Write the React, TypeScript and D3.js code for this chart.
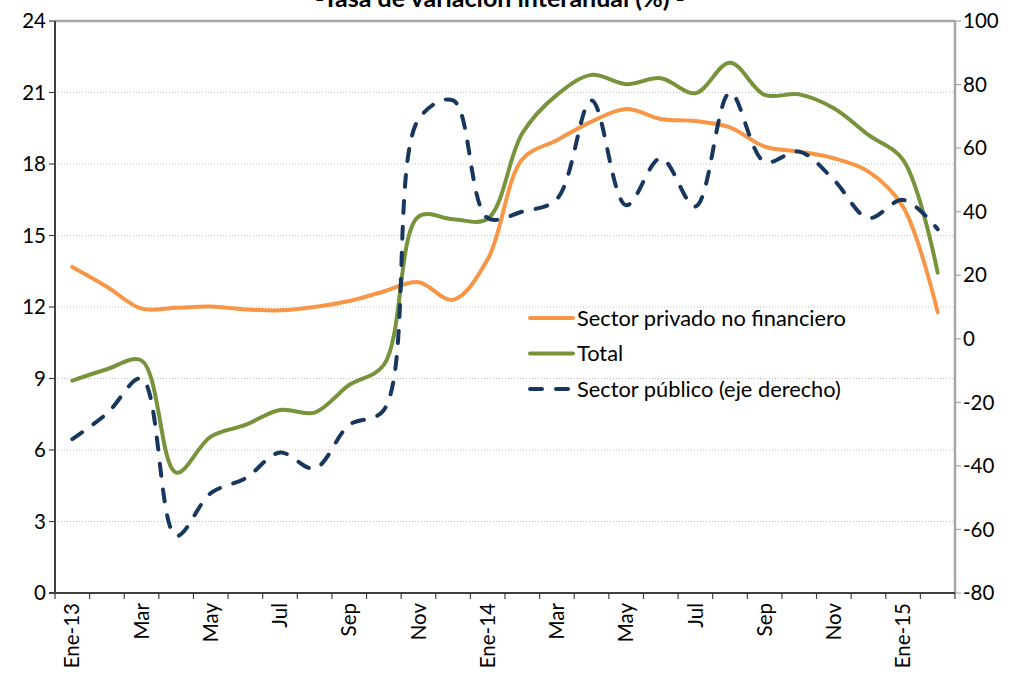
import React from "react";
import * as d3 from "d3";

const categories = [
  "2013-01","2013-02","2013-03","2013-04","2013-05","2013-06","2013-07","2013-08","2013-09","2013-10","2013-11","2013-12",
  "2014-01","2014-02","2014-03","2014-04","2014-05","2014-06","2014-07","2014-08","2014-09","2014-10","2014-11","2014-12",
  "2015-01","2015-02",
];
const tickLabels = [
  "Ene-13","","Mar","","May","","Jul","","Sep","","Nov","",
  "Ene-14","","Mar","","May","","Jul","","Sep","","Nov","",
  "Ene-15","",
];
const privado = [
  13.68, 12.85, 11.93, 11.97, 12.02, 11.9, 11.86, 12.0, 12.25, 12.65, 13.04, 12.3,
  14.0, 18.2, 19.0, 19.78, 20.31, 19.89, 19.8, 19.54, 18.73, 18.52, 18.24, 17.68,
  16.2, 11.78,
];
const total = [
  8.91, 9.39, 9.75, 5.05, 6.56, 7.05, 7.68, 7.57, 8.73, 9.57, 15.79, 15.68,
  15.7, 19.29, 20.9, 21.74, 21.35, 21.6, 20.97, 22.25, 20.9, 20.92, 20.34, 19.22,
  18.17, 13.44,
];
const publico = [
  -31.6, -23.5, -12.5, -62, -48.6, -43.9, -35.8, -40.8, -27.1, -22.4, 69, 75,
  38, 40, 44, 75, 42, 56.8, 41.6, 77.4, 55.7, 58.9, 50, 38, 43.7, 34.5,
];
const leftTicks = [0, 3, 6, 9, 12, 15, 18, 21, 24];
const rightTicks = [-80, -60, -40, -20, 0, 20, 40, 60, 80, 100];
const title = "-Tasa de variación interanual (%) -";
const legendItems = [
  { label: "Sector privado no financiero", color: "#F79646", dash: "" },
  { label: "Total", color: "#77933C", dash: "" },
  { label: "Sector público (eje derecho)", color: "#17375E", dash: "12 14" },
];

const W = 1014;
const H = 674;
const L = 55, R = 955, T = 21, B = 593;
const FONT = "Lato, 'Open Sans', sans-serif";

export default function App() {
  const xBand = d3.scaleBand<string>().domain(categories).range([L, R]).paddingInner(0).paddingOuter(0);
  const xp = d3.scalePoint<string>().domain(categories).range([L, R]).padding(0.5);
  const yL = d3.scaleLinear().domain([0, 24]).range([B, T]);
  const yR = d3.scaleLinear().domain([-80, 100]).range([B, T]);

  const curve = d3.curveCatmullRom.alpha(0.5);
  const lineL = d3.line<number>()
    .x((_, i) => xp(categories[i]) as number)
    .y((d) => yL(d))
    .curve(curve);
  const lineR = d3.line<number>()
    .x((_, i) => xp(categories[i]) as number)
    .y((d) => yR(d))
    .curve(curve);

  const boundaries = [...categories.map((c) => xBand(c) as number), R];

  return (
    <div style={{ position: "absolute", left: 0, top: 0 }}>
      <svg width={W} height={H} style={{ display: "block", background: "#fff" }}>
        <text x={500} y={7} textAnchor="middle" fontFamily={FONT} fontWeight="bold" fontSize={25} fill="#000">
          {title}
        </text>
        {/* grid */}
        {leftTicks.filter((t) => t > 0 && t < 24).map((t) => (
          <line key={"g" + t} x1={L} x2={R} y1={yL(t)} y2={yL(t)} stroke="#BFBFBF" strokeWidth={1} strokeDasharray="1 2" />
        ))}
        {/* top border */}
        <line x1={L} x2={R} y1={T} y2={T} stroke="#A6A6A6" strokeWidth={2.5} />
        {/* right axis */}
        <line x1={R} x2={R} y1={T} y2={B} stroke="#A6A6A6" strokeWidth={2.5} />
        {rightTicks.map((t) => (
          <g key={"r" + t}>
            <line x1={R} x2={R + 6} y1={yR(t)} y2={yR(t)} stroke="#A6A6A6" strokeWidth={1.2} />
            <text x={963} y={yR(t)} dy="0.35em" fontFamily={FONT} fontSize={20.5} fill="#000">{t}</text>
          </g>
        ))}
        {/* left axis */}
        <line x1={L} x2={L} y1={T} y2={B} stroke="#404040" strokeWidth={2} />
        {leftTicks.map((t) => (
          <g key={"l" + t}>
            <line x1={L - 6} x2={L} y1={yL(t)} y2={yL(t)} stroke="#404040" strokeWidth={1.2} />
            <text x={46} y={yL(t)} dy="0.35em" textAnchor="end" fontFamily={FONT} fontSize={20.5} fill="#000">{t}</text>
          </g>
        ))}
        {/* bottom axis */}
        <line x1={L - 6} x2={R} y1={B} y2={B} stroke="#404040" strokeWidth={2} />
        {boundaries.map((bx, i) => (
          <line key={"b" + i} x1={bx} x2={bx} y1={B} y2={B + 6} stroke="#404040" strokeWidth={1.2} />
        ))}
        {categories.map((c, i) =>
          tickLabels[i] ? (
            <text
              key={"x" + c}
              transform={`translate(${xp(c)},${B + 10}) rotate(-90)`}
              textAnchor="end"
              dy="0.35em"
              fontFamily={FONT}
              fontSize={20.5}
              fill="#000"
            >
              {tickLabels[i]}
            </text>
          ) : null
        )}
        {/* series */}
        <path d={lineL(privado) || ""} fill="none" stroke="#F79646" strokeWidth={4} strokeLinejoin="round" strokeLinecap="round" />
        <path d={lineL(total) || ""} fill="none" stroke="#77933C" strokeWidth={4} strokeLinejoin="round" strokeLinecap="round" />
        <path d={lineR(publico) || ""} fill="none" stroke="#17375E" strokeWidth={4} strokeDasharray="12 14" strokeLinecap="round" strokeLinejoin="round" />
        {/* legend */}
        {legendItems.map((it, i) => {
          const y = 318 + i * 35.5;
          return (
            <g key={"lg" + i}>
              <line x1={530} x2={573} y1={y} y2={y} stroke={it.color} strokeWidth={4} strokeDasharray={it.dash || undefined} strokeLinecap="round" />
              <text x={577} y={y} dy="0.35em" fontFamily={FONT} fontSize={21.8} fill="#000">{it.label}</text>
            </g>
          );
        })}
      </svg>
    </div>
  );
}
